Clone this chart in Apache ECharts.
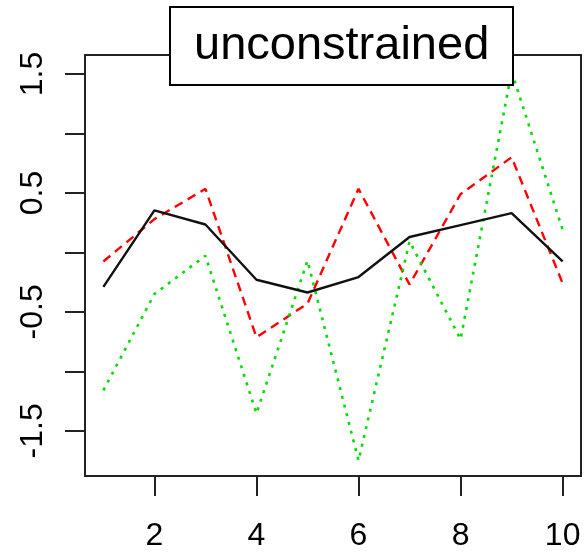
<!DOCTYPE html>
<html>
<head>
<meta charset="utf-8">
<script src="https://cdn.jsdelivr.net/npm/echarts@6/dist/echarts.min.js"></script>
<style>
html,body{margin:0;padding:0;background:#fff;}
#c{width:586px;height:554px;}
</style>
</head>
<body>
<div id="c"></div>
<script>
const xValues = [1, 2, 3, 4, 5, 6, 7, 8, 9, 10];
const blackSeries = [-0.29, 0.354, 0.235, -0.23, -0.337, -0.207, 0.13, 0.23, 0.331, -0.076];
const redSeries = [-0.076, 0.28, 0.535, -0.713, -0.43, 0.535, -0.27, 0.49, 0.80, -0.26];
const greenSeries = [-1.16, -0.35, -0.028, -1.354, -0.07, -1.75, 0.093, -0.73, 1.52, 0.19];
const xTickValues = [2, 4, 6, 8, 10];
const yTickValues = [-1.5, -1, -0.5, 0, 0.5, 1, 1.5];
const yLabelValues = [-1.5, -0.5, 0.5, 1.5];
const titleText = 'unconstrained';

const pairs = arr => arr.map((v, i) => [xValues[i], v]);
const font = 'Liberation Sans, Arial, sans-serif';

const chart = echarts.init(document.getElementById('c'), null, {renderer: 'canvas'});
chart.setOption({
  backgroundColor: '#ffffff',
  animation: false,
  title: {
    text: titleText,
    left: 170,
    top: 7,
    padding: [16, 24, 15, 24],
    backgroundColor: '#ffffff',
    borderColor: '#000000',
    borderWidth: 2,
    textStyle: {fontFamily: font, fontSize: 47, fontWeight: 'normal', color: '#000'}
  },
  grid: {
    left: 85, right: 5, top: 55, bottom: 78,
    show: true, borderColor: '#222', borderWidth: 2, backgroundColor: 'transparent'
  },
  xAxis: {
    type: 'value', min: 0.64, max: 10.36,
    splitLine: {show: false},
    axisLine: {show: false, onZero: false},
    axisTick: {show: true, customValues: xTickValues, length: 20, inside: false,
      lineStyle: {color: '#222', width: 2}},
    axisLabel: {show: true, customValues: xTickValues, margin: 44,
      fontFamily: font, fontSize: 32, color: '#000',
      formatter: v => String(v)}
  },
  yAxis: {
    type: 'value', min: -1.88, max: 1.66,
    splitLine: {show: false},
    axisLine: {show: false, onZero: false},
    axisTick: {show: true, customValues: yTickValues, length: 20, inside: false,
      lineStyle: {color: '#222', width: 2}},
    axisLabel: {show: true, customValues: yLabelValues, rotate: 90, margin: 36,
      fontFamily: font, fontSize: 32, color: '#000',
      formatter: v => v.toFixed(1)}
  },
  series: [
    {type: 'line', data: pairs(blackSeries), symbol: 'none', z: 3,
      lineStyle: {color: '#111111', width: 2.4, type: 'solid'}},
    {type: 'line', data: pairs(redSeries), symbol: 'none', z: 2,
      lineStyle: {color: '#ff0000', width: 2.4, type: [9, 6]}},
    {type: 'line', data: pairs(greenSeries), symbol: 'none', z: 2,
      lineStyle: {color: '#00dd00', width: 2.6, type: [3, 6]}}
  ]
});
</script>
</body>
</html>
